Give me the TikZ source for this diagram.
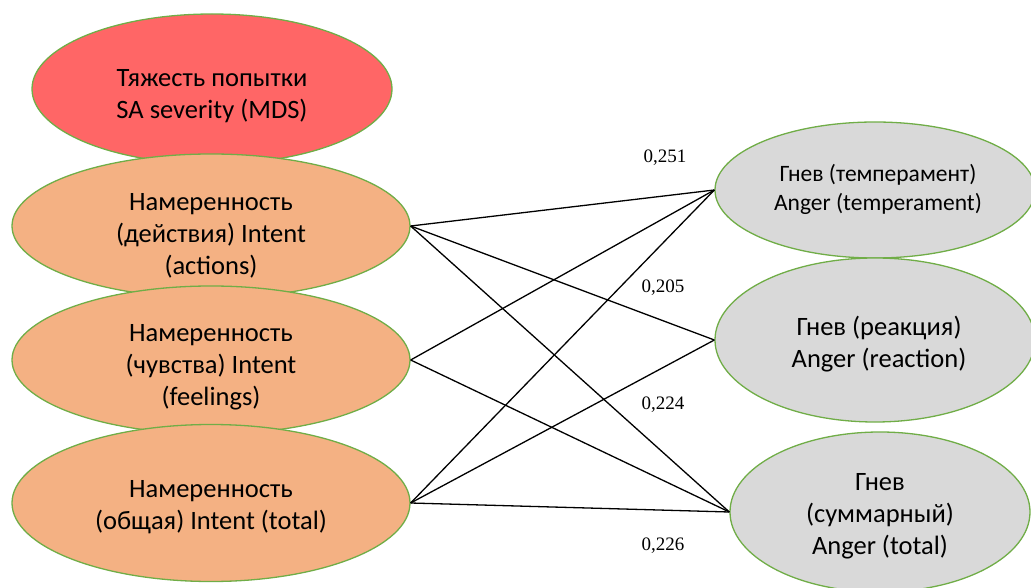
\documentclass[tikz,border=0pt]{standalone}
\usepackage{fontspec}
\setmainfont{Carlito}
\newfontfamily\numfont{Liberation Serif}
\usetikzlibrary{shapes.geometric}
\definecolor{redfill}{RGB}{255,102,102}
\definecolor{orangefill}{RGB}{244,177,131}
\definecolor{greyfill}{RGB}{217,217,217}
\definecolor{greenline}{RGB}{112,173,71}
\tikzset{
  oval/.style={ellipse, draw=greenline, line width=1.3pt, inner sep=0pt},
  leftoval/.style={oval, fill=orangefill},
  rightoval/.style={oval, fill=greyfill},
  txt/.style={align=center, inner sep=0pt, font=\fontsize{26.5}{32}\selectfont},
  smalltxt/.style={txt, font=\fontsize{23.5}{29}\selectfont},
  link/.style={draw=black, line width=1.3pt},
  coef/.style={font=\numfont\fontsize{19}{22}\selectfont, inner sep=0pt}
}
\begin{document}
\begin{tikzpicture}[x=1pt,y=-1pt]
\path[use as bounding box] (0,0) rectangle (1031,588);
\node[oval, fill=redfill, minimum width=360pt, minimum height=150pt] (sev) at (212,89) {};
\node[txt] (sevt) at (212,96.5) {Тяжесть попытки\\SA severity (MDS)};
\node[leftoval, minimum width=398pt, minimum height=144pt] (act) at (211,226) {};
\node[txt] (actt) at (211,235.5) {Намеренность\\(действия) Intent\\(actions)};
\node[leftoval, minimum width=398pt, minimum height=148pt] (feel) at (211,360) {};
\node[txt] (feelt) at (211,367.5) {Намеренность\\(чувства) Intent\\(feelings)};
\node[leftoval, minimum width=398pt, minimum height=157pt] (tot) at (211,503) {};
\node[txt] (tott) at (211,507) {Намеренность\\(общая) Intent (total)};
\node[rightoval, minimum width=320pt, minimum height=136pt] (atemp) at (875,190) {};
\node[smalltxt] (atempt) at (878,189) {Гнев (темперамент)\\Anger (temperament)};
\node[rightoval, minimum width=320pt, minimum height=164pt] (areac) at (875,340) {};
\node[txt] (areact) at (879,344.5) {Гнев (реакция)\\Anger (reaction)};
\node[rightoval, minimum width=300pt, minimum height=160pt] (atot) at (880,512) {};
\node[txt] (atott) at (880,516.5) {Гнев\\(суммарный)\\Anger (total)};
\draw[link] (act.east) -- (atemp.west);
\draw[link] (act.east) -- (areac.west);
\draw[link] (act.east) -- (atot.west);
\draw[link] (feel.east) -- (atemp.west);
\draw[link] (feel.east) -- (atot.west);
\draw[link] (tot.east) -- (atemp.west);
\draw[link] (tot.east) -- (areac.west);
\draw[link] (tot.east) -- (atot.west);
\node[coef] (c1) at (665,158) {0,251};
\node[coef] (c2) at (663,288) {0,205};
\node[coef] (c3) at (663,405) {0,224};
\node[coef] (c4) at (663,546) {0,226};
\end{tikzpicture}
\end{document}
